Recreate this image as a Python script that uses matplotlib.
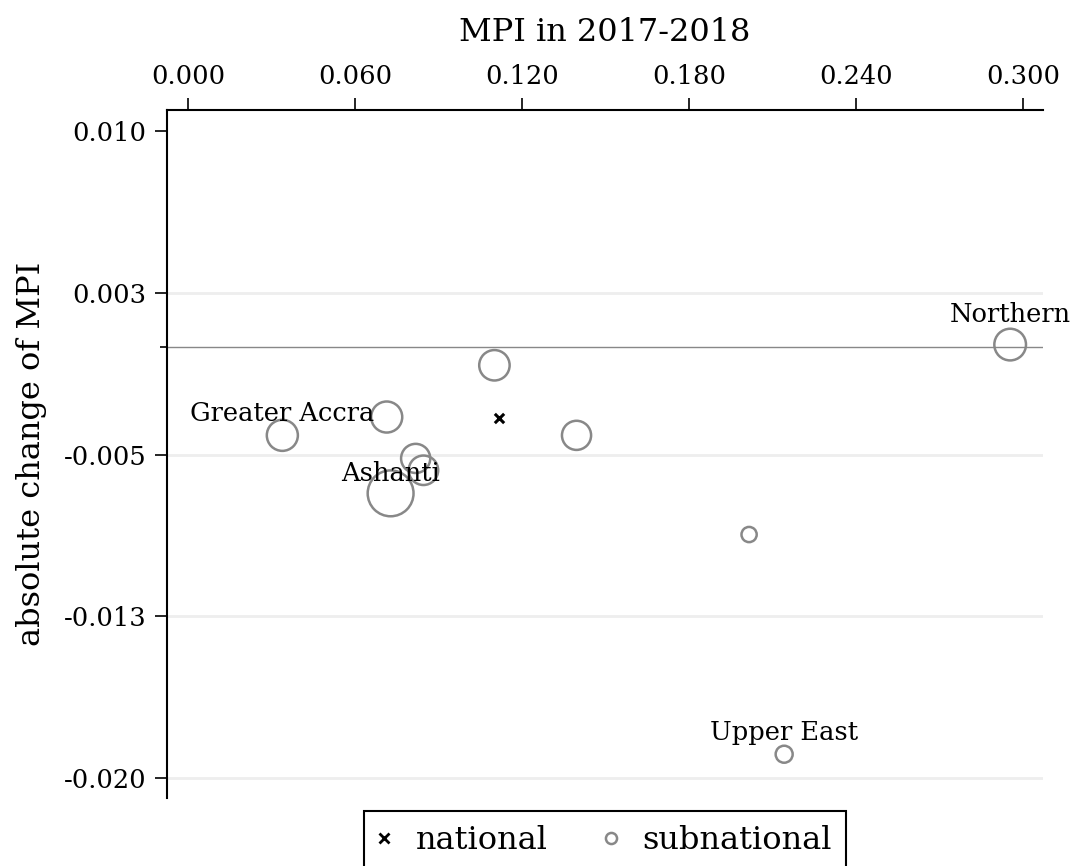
import numpy as np
import matplotlib
matplotlib.use("Agg")
import matplotlib.pyplot as plt
from matplotlib.ticker import FixedLocator
from matplotlib.lines import Line2D

plt.rcParams['font.family'] = ['DejaVu Serif']
plt.rcParams['axes.unicode_minus'] = False

# subnational regions (MPI 2017-2018, absolute change of MPI, bubble weight)
regions = ["Northern", "r2", "r3", "Greater Accra", "r5", "r6", "r7",
           "Ashanti", "r9", "Upper East"]
mpi = [0.2954, 0.1101, 0.0714, 0.0339, 0.1396, 0.0818, 0.0846,
       0.0728, 0.2016, 0.2142]
change = [0.0001, -0.00086, -0.00326, -0.00411, -0.00411, -0.00518,
          -0.00573, -0.00680, -0.00871, -0.01890]
weight = [5.2, 4.8, 5.0, 5.0, 4.4, 4.4, 4.5, 10.9, 1.2, 1.5]
labelled = ["Northern", "Greater Accra", "Ashanti", "Upper East"]
label_offset = [16, 0, 10, 10, 0, 0, 0, 9, 0, 10]

# national value
nat_mpi = 0.1118
nat_change = -0.00329

xticks = [0.000, 0.060, 0.120, 0.180, 0.240, 0.300]
xticklabels = ["0.000", "0.060", "0.120", "0.180", "0.240", "0.300"]
yticks = [-0.020, -0.0125, -0.005, 0.0025, 0.010]
yticklabels = ["-0.020", "-0.013", "-0.005", "0.003", "0.010"]

fig = plt.figure(figsize=(10.76, 8.66), dpi=100)
ax = fig.add_axes([167 / 1076, 1 - 798 / 866, 876 / 1076, 688 / 866])

ax.axhline(0, color='#888888', lw=1.0, zorder=1)
ax.scatter(mpi, change, s=np.array(weight) * 100, facecolors='none',
           edgecolors='#888888', linewidths=1.8, zorder=3)
ax.scatter([nat_mpi], [nat_change], marker='x', color='black', s=45,
           linewidths=2.2, zorder=4)

for name, x, y, off in zip(regions, mpi, change, label_offset):
    if name in labelled:
        ax.annotate(name, (x, y), xytext=(0, off), textcoords='offset points',
                    ha='center', va='baseline', fontsize=18.5, zorder=5)

ax.set_xlim(-0.00754, 0.3072)
ax.set_ylim(-0.02093, 0.01098)

ax.xaxis.tick_top()
ax.xaxis.set_label_position('top')
ax.set_xticks(xticks)
ax.set_xticklabels(xticklabels)
ax.set_yticks(yticks)
ax.set_yticklabels(yticklabels)
ax.yaxis.set_minor_locator(FixedLocator([0.0]))
ax.tick_params(axis='both', which='major', labelsize=18.5, length=9,
               width=1.2, pad=6, direction='out')
ax.tick_params(axis='y', which='minor', length=5, width=1.2)

ax.set_xlabel("MPI in 2017-2018", fontsize=23, labelpad=17)
ax.set_ylabel("absolute change of MPI", fontsize=23, labelpad=12)

for side in ['right', 'bottom']:
    ax.spines[side].set_visible(False)
for side in ['left', 'top']:
    ax.spines[side].set_linewidth(1.5)

ax.yaxis.grid(True, color='#eeeeee', lw=2.0, zorder=0)
ax.xaxis.grid(False)
ax.set_axisbelow(True)
ax.get_ygridlines()[-1].set_visible(False)

handles = [Line2D([], [], marker='x', color='black', ls='none', markersize=7,
                  markeredgewidth=2),
           Line2D([], [], marker='o', color='#888888', ls='none', markersize=8,
                  markerfacecolor='none', markeredgewidth=1.8)]
leg = ax.legend(handles, ['national', 'subnational'], loc='upper center',
                bbox_to_anchor=(0.5, -0.019), borderaxespad=0, ncol=2,
                fontsize=23, frameon=True, fancybox=False, edgecolor='black',
                framealpha=1, handlelength=0.4, handletextpad=0.8,
                columnspacing=1.75, borderpad=0.45)
leg.get_frame().set_linewidth(1.5)

fig.savefig("out.png", dpi=100)
